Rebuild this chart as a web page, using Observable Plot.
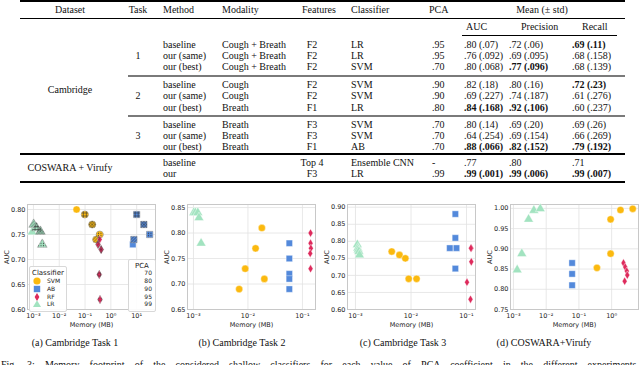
<!DOCTYPE html>
<html><head><meta charset="utf-8">
<script src="https://cdn.jsdelivr.net/npm/d3@7"></script>
<script src="https://cdn.jsdelivr.net/npm/@observablehq/plot@0.6"></script>
<style>
html,body{margin:0;padding:0;background:#fff;}
body{width:640px;height:365px;overflow:hidden;position:relative;font-family:"Liberation Serif","Times New Roman",serif;color:#111;}
.c{position:absolute;font-size:10px;line-height:12px;white-space:nowrap;}
.rule{position:absolute;}
.panel{position:absolute;top:196px;}
.cap{position:absolute;font-size:10px;line-height:12px;white-space:nowrap;transform:translateX(-50%);}
.leg{position:absolute;border:1px solid #d8d8d8;border-radius:2px;background:rgba(255,255,255,0.9);font-family:"DejaVu Sans",sans-serif;color:#222;}
.leg div{position:absolute;white-space:nowrap;line-height:8px;}
</style></head><body>
<svg width="0" height="0" style="position:absolute">
<defs>
<pattern id="p80" patternUnits="userSpaceOnUse" width="3" height="3"><path d="M-1,1 l2,-2 M0,3 l3,-3 M2,4 l2,-2" stroke="#333" stroke-width="0.6"/></pattern>
<pattern id="p90" patternUnits="userSpaceOnUse" width="3" height="3"><path d="M1.5,0 V3 M0,1.5 H3" stroke="#333" stroke-width="0.6"/></pattern>
<pattern id="p95" patternUnits="userSpaceOnUse" width="3" height="3"><path d="M0,0 L3,3 M3,0 L0,3" stroke="#333" stroke-width="0.6"/></pattern>
<pattern id="p99" patternUnits="userSpaceOnUse" width="2.5" height="2.5"><circle cx="1.25" cy="1.25" r="0.55" fill="#333"/></pattern>
</defs></svg>
<script>
// ---------------- TABLE DATA ----------------
const headers = ["Dataset","Task","Method","Modality","Features","Classifier","PCA","Mean (± std)"];
const metricHeaders = ["AUC","Precision","Recall"];
const datasets = ["Cambridge","COSWARA + Virufy"];
const tasks = ["1","2","3"];
const methods = ["baseline","our (same)","our (best)","baseline","our (same)","our (best)","baseline","our (same)","our (best)","baseline","our"];
const modalities = ["Cough + Breath","Cough + Breath","Cough + Breath","Cough","Cough","Breath","Breath","Breath","Breath","",""];
const features = ["F2","F2","F2","F2","F2","F1","F3","F3","F1","Top 4","F3"];
const classifiersT = ["LR","LR","SVM","SVM","SVM","LR","SVM","SVM","AB","Ensemble CNN","LR"];
const pcas = [".95",".95",".70",".90",".90",".80",".70",".70",".70","-",".99"];
const aucs = [".80 (.07)",".76 (.092)",".80 (.068)",".82 (.18)",".69 (.227)",".84 (.168)",".80 (.14)",".64 (.254)",".88 (.066)",".77",".99 (.001)"];
const precisions = [".72 (.06)",".69 (.095)",".77 (.096)",".80 (.16)",".74 (.187)",".92 (.106)",".69 (.20)",".69 (.154)",".82 (.152)",".80",".99 (.006)"];
const recalls = [".69 (.11)",".68 (.158)",".68 (.139)",".72 (.23)",".61 (.276)",".60 (.237)",".69 (.26)",".66 (.269)",".79 (.192)",".71",".99 (.007)"];
const boldAuc = [0,0,0,0,0,1,0,0,1,0,1];
const boldPrec = [0,0,1,0,0,1,0,0,1,0,1];
const boldRec = [1,0,0,1,0,0,0,0,1,0,1];

// ---------------- SCATTER DATA ----------------
const clfOrder = ["SVM","AB","RF","LR"];
const clfColors = ["#FBB90F","#5389DB","#DE2A5C","#A2E3C0"];
const pcaLevels = ["70","80","90","95","99"];

// (a) Cambridge Task 1
const clfA = ["SVM","SVM","SVM","SVM","SVM","AB","AB","AB","AB","AB","RF","RF","RF","RF","RF","LR","LR","LR","LR","LR"];
const pcaA = [70,80,90,95,99,70,80,90,95,99,70,80,90,95,99,70,80,90,95,99];
const memA = [0.047,0.27,0.098,0.19,0.37, 7.1,7.8,10,19,32, 0.37,0.32,0.355,0.42,0.38, 0.00089,0.00102,0.00132,0.00186,0.0022];
const aucA = [0.80,0.74,0.79,0.77,0.75, 0.73,0.74,0.79,0.77,0.75, 0.74,0.73,0.67,0.72,0.62, 0.755,0.77,0.763,0.756,0.73];

// (b) Cambridge Task 2
const clfB = ["LR","LR","LR","LR","LR","SVM","SVM","SVM","SVM","SVM","AB","AB","AB","AB","AB","RF","RF","RF","RF","RF"];
const memB = [0.00101,0.00108,0.0012,0.00126,0.00138, 0.018,0.0138,0.0089,0.020,0.0069, 0.0575,0.0575,0.0575,0.0575,0.0575, 0.141,0.141,0.143,0.139,0.141];
const aucB = [0.84,0.84,0.84,0.83,0.78, 0.81,0.77,0.73,0.71,0.69, 0.78,0.75,0.72,0.71,0.69, 0.80,0.78,0.77,0.76,0.73];

// (c) Cambridge Task 3
const clfC = ["LR","LR","LR","LR","LR","SVM","SVM","SVM","SVM","SVM","AB","AB","AB","AB","AB","RF","RF","RF","RF","RF"];
const memC = [0.00108,0.0011,0.00112,0.00115,0.00118, 0.0045,0.0062,0.0079,0.0091,0.0126, 0.063,0.063,0.050,0.066,0.063, 0.122,0.12,0.122,0.102,0.118];
const aucC = [0.79,0.78,0.775,0.77,0.76, 0.77,0.76,0.75,0.69,0.69, 0.88,0.81,0.78,0.78,0.72, 0.78,0.78,0.74,0.68,0.63];

// (d) COSWARA+Virufy
const clfD = ["LR","LR","LR","LR","LR","AB","AB","AB","SVM","SVM","SVM","SVM","SVM","RF","RF","RF","RF","RF"];
const memD = [0.0013,0.0018,0.0029,0.0042,0.0066, 0.062,0.062,0.062, 0.355,0.93,0.93,1.86,4.4, 2.3,2.6,2.9,3.0,2.5];
const aucD = [0.848,0.888,0.973,0.995,0.999, 0.865,0.838,0.81, 0.853,0.888,0.973,0.996,0.999, 0.865,0.855,0.845,0.835,0.82];

const subCaptions = ["(a) Cambridge Task 1","(b) Cambridge Task 2","(c) Cambridge Task 3","(d) COSWARA+Virufy"];
const figCaption = "Fig. 3: Memory footprint of the considered shallow classifiers for each value of PCA coefficient in the different experiments.";

// ---------------- TABLE LAYOUT ----------------
const body = document.body;
function cell(text, x, y, align, bold, extra) {
  const d = document.createElement("div");
  d.className = "c";
  d.textContent = text;
  d.style.top = (y - 6) + "px";
  d.style.left = x + "px";
  if (align === "center") d.style.transform = "translateX(-50%)";
  if (bold) d.style.fontWeight = "bold";
  if (extra) Object.assign(d.style, extra);
  body.appendChild(d);
}
function rule(x1, x2, y, h, color) {
  const d = document.createElement("div");
  d.className = "rule";
  Object.assign(d.style, {left: x1 + "px", width: (x2 - x1) + "px", top: (y - h / 2) + "px", height: h + "px", background: color});
  body.appendChild(d);
}
const headerX = [[70,"center"],[138,"center"],[163,"left"],[222,"left"],[302,"left"],[351,"left"],[429,"left"],[542,"center"]];
headers.forEach((h, i) => cell(h, headerX[i][0], 9.5, headerX[i][1]));
const metricHX = [466, 521, 582];
metricHeaders.forEach((h, i) => cell(h, metricHX[i], 27, "left"));
const rowY = [44.5,55.5,66.5,84.5,96,107.5,124.5,135.5,146.5,162.5,173.5];
rowY.forEach((y, i) => {
  cell(methods[i], 163, y, "left");
  cell(modalities[i], 222, y, "left");
  cell(features[i], 312, y, "center");
  cell(classifiersT[i], 351, y, "left");
  cell(pcas[i], 432, y, "left");
  cell(aucs[i], 464, y, "left", boldAuc[i]);
  cell(precisions[i], 509, y, "left", boldPrec[i]);
  cell(recalls[i], 572, y, "left", boldRec[i]);
});
cell(datasets[0], 70, 89.5, "center");
cell(datasets[1], 70, 168, "center");
[55.5, 96, 135.5].forEach((y, i) => cell(tasks[i], 138, y, "center"));
rule(20, 625, 1, 1.4, "#000");
rule(20, 625, 18.3, 0.9, "#000");
rule(462, 617, 35, 0.9, "#000");
rule(128, 625, 76, 1.8, "#7a7a7a");
rule(128, 625, 116, 1.8, "#7a7a7a");
rule(20, 625, 154, 2.4, "#000");
rule(20, 625, 182, 2, "#000");

// ---------------- SCATTER PANELS ----------------
const thinDiamond = {draw(ctx, size) {
  const r = Math.sqrt(size / Math.PI);
  const h = r * 1.15, w = r * 0.68;
  ctx.moveTo(0, -h); ctx.lineTo(w, 0); ctx.lineTo(0, h); ctx.lineTo(-w, 0); ctx.closePath();
}};
const supMap = {"-":"⁻","0":"⁰","1":"¹","2":"²","3":"³"};
const supFmt = d => "10" + String(Math.round(Math.log10(d))).split("").map(c => supMap[c]).join("");

function panel(opts) {
  const {data, xDomain, xTicks, yDomain, yTicks, ml, mr, left, hatch} = opts;
  const marks = [
    Plot.gridX(xTicks, {stroke: "#e2e2e2", strokeOpacity: 1, strokeWidth: 0.8}),
    Plot.gridY(yTicks, {stroke: "#e2e2e2", strokeOpacity: 1, strokeWidth: 0.8}),
    Plot.frame({stroke: "#c8c8c8", strokeWidth: 1}),
    Plot.axisX(xTicks, {tickSize: 0, tickPadding: 4, tickFormat: supFmt, label: "Memory (MB)", labelAnchor: "center", labelArrow: "none", labelOffset: 17, fontSize: 6.5}),
    Plot.axisY(yTicks, {tickSize: 0, tickPadding: 2, tickFormat: d3.format(".2f"), label: "AUC", labelAnchor: "center", labelArrow: "none", labelOffset: 23, fontSize: 6.5}),
    Plot.dot(data, {x: "mem", y: "auc", symbol: "clf", fill: "clf", r: 3.6, stroke: "white", strokeWidth: 0.4})
  ];
  if (hatch) {
    ["80","90","95","99"].forEach(p => {
      marks.push(Plot.dot(data.filter(d => String(d.pca) === p), {x: "mem", y: "auc", symbol: "clf", r: 3.6, fill: `url(#p${p})`, stroke: "#444", strokeWidth: 0.3}));
    });
  }
  const svg = Plot.plot({
    width: 160, height: 139,
    marginLeft: ml, marginRight: mr, marginTop: 8, marginBottom: 26,
    x: {type: "log", domain: xDomain},
    y: {domain: yDomain},
    color: {domain: clfOrder, range: clfColors},
    symbol: {domain: clfOrder, range: ["circle","square",thinDiamond,"triangle"]},
    style: {fontFamily: "DejaVu Sans, sans-serif", fontSize: "6.5px", background: "transparent", color: "#222", overflow: "visible"},
    marks
  });
  const wrap = document.createElement("div");
  wrap.className = "panel";
  wrap.style.left = left + "px";
  wrap.appendChild(svg);
  body.appendChild(wrap);
}
const zipA = memA.map((m, i) => ({mem: m, auc: aucA[i], clf: clfA[i], pca: pcaA[i]}));
const zipB = memB.map((m, i) => ({mem: m, auc: aucB[i], clf: clfB[i]}));
const zipC = memC.map((m, i) => ({mem: m, auc: aucC[i], clf: clfC[i]}));
const zipD = memD.map((m, i) => ({mem: m, auc: aucD[i], clf: clfD[i]}));

panel({data: zipA, xDomain: [Math.pow(10,-3.23), Math.pow(10,1.73)], xTicks: [1e-3,1e-2,1e-1,1,10], yDomain: [0.6, 0.81], yTicks: [0.60,0.65,0.70,0.75,0.80], ml: 27, mr: 5, left: 0, hatch: true});
panel({data: zipB, xDomain: [Math.pow(10,-3.11), Math.pow(10,-0.76)], xTicks: [1e-3,1e-2,1e-1], yDomain: [0.65, 0.856], yTicks: [0.65,0.70,0.75,0.80,0.85], ml: 27, mr: 5, left: 160});
panel({data: zipC, xDomain: [Math.pow(10,-3.144), Math.pow(10,-0.838)], xTicks: [1e-3,1e-2,1e-1], yDomain: [0.6, 0.908], yTicks: [0.60,0.65,0.70,0.75,0.80,0.85,0.90], ml: 27, mr: 5, left: 320});
panel({data: zipD, xDomain: [Math.pow(10,-3.09), Math.pow(10,0.82)], xTicks: [1e-3,1e-2,1e-1,1], yDomain: [0.75, 1.0096], yTicks: [0.75,0.80,0.85,0.90,0.95,1.00], ml: 30, mr: 2, left: 480});

// ---------------- LEGENDS (panel a) ----------------
function legendBox(x, y, w, h) {
  const b = document.createElement("div");
  b.className = "leg";
  Object.assign(b.style, {left: x + "px", top: y + "px", width: w + "px", height: h + "px"});
  body.appendChild(b);
  return b;
}
const lb = legendBox(29, 266, 36, 44);
const lt = document.createElement("div");
lt.textContent = "Classifier"; lt.style.left = "2px"; lt.style.top = "2px"; lt.style.fontSize = "7px";
lb.appendChild(lt);
const symPaths = {
  SVM: '<circle cx="5" cy="5" r="3.6"/>',
  AB: '<rect x="1.8" y="1.8" width="6.4" height="6.4"/>',
  RF: '<path d="M5,0.9 L7.4,5 L5,9.1 L2.6,5 Z"/>',
  LR: '<path d="M5,1.2 L9,8 L1,8 Z"/>'
};
const entryY = [281, 289.3, 296.7, 304.3];
clfOrder.forEach((c, i) => {
  const s = document.createElement("div");
  s.innerHTML = `<svg width="10" height="10" style="display:block"><g fill="${clfColors[i]}">${symPaths[c]}</g></svg>`;
  s.style.left = (37 - 29 - 1 - 5) + "px"; s.style.top = (entryY[i] - 266 - 1 - 5) + "px";
  lb.appendChild(s);
  const t = document.createElement("div");
  t.textContent = c; t.style.left = (47 - 30) + "px"; t.style.top = (entryY[i] - 267 - 4) + "px"; t.style.fontSize = "6px";
  lb.appendChild(t);
});
const pb = legendBox(128, 259, 26, 51);
const pt = document.createElement("div");
pt.textContent = "PCA"; pt.style.left = "6px"; pt.style.top = "2px"; pt.style.fontSize = "7px";
pb.appendChild(pt);
const pcaY = [273.3, 281, 289.3, 296.7, 304.3];
pcaLevels.forEach((p, i) => {
  const t = document.createElement("div");
  t.textContent = p; t.style.right = "3px"; t.style.top = (pcaY[i] - 260 - 4) + "px"; t.style.fontSize = "6px";
  pb.appendChild(t);
});

// ---------------- CAPTIONS ----------------
const capX = [75, 242, 403, 544];
subCaptions.forEach((s, i) => {
  const d = document.createElement("div");
  d.className = "cap"; d.textContent = s;
  d.style.left = capX[i] + "px"; d.style.top = "337px";
  body.appendChild(d);
});
const fc = document.createElement("div");
fc.className = "c";
fc.textContent = figCaption;
Object.assign(fc.style, {left: "1px", top: "358.5px", width: "638px", textAlign: "justify", textAlignLast: "justify"});
body.appendChild(fc);
</script>
</body></html>
